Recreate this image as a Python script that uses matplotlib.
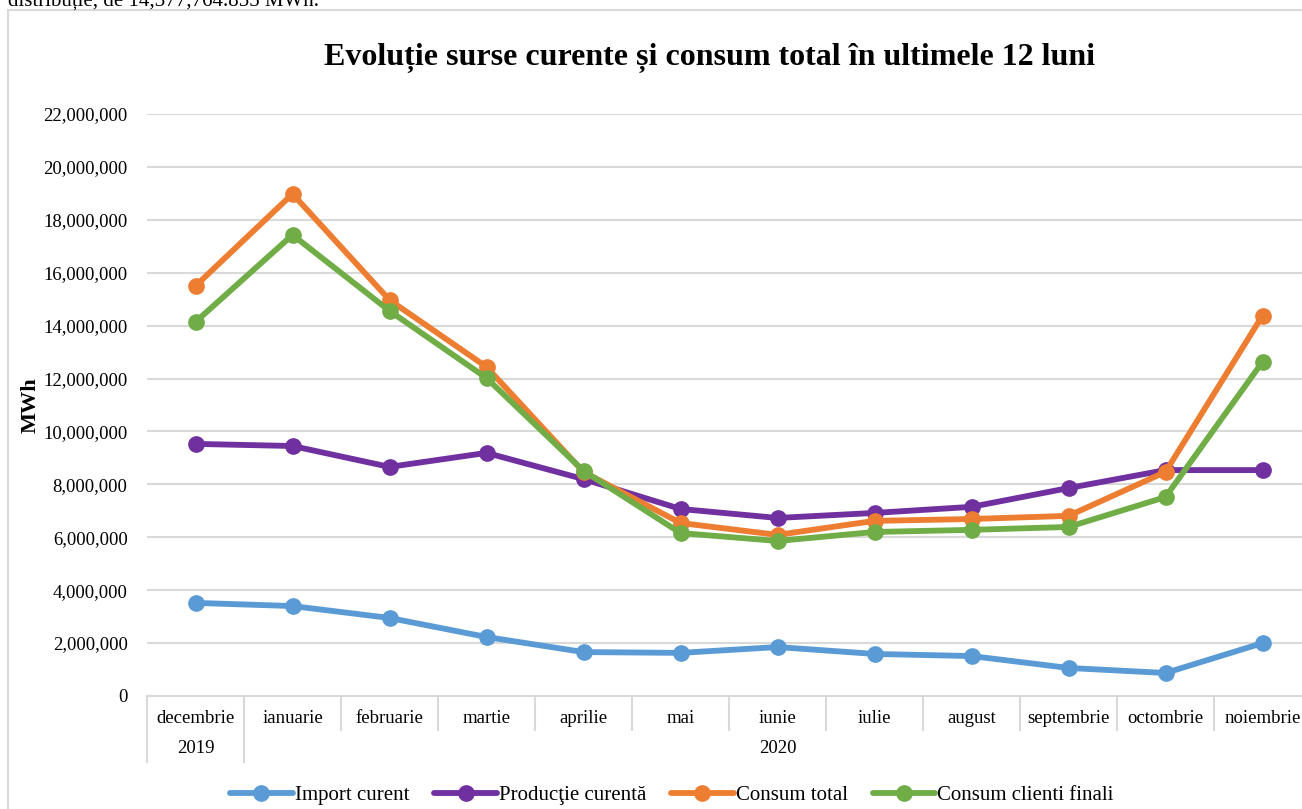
import numpy as np
import matplotlib
matplotlib.use('Agg')
import matplotlib.pyplot as plt
from matplotlib.patches import Rectangle

# Data (MWh)
months = ['decembrie', 'ianuarie', 'februarie', 'martie', 'aprilie', 'mai',
          'iunie', 'iulie', 'august', 'septembrie', 'octombrie', 'noiembrie']
years = ['2019', '2020']
year_span = [1, 11]  # number of months under each year
import_curent = [3.52e6, 3.40e6, 2.95e6, 2.23e6, 1.66e6, 1.63e6,
                 1.85e6, 1.59e6, 1.51e6, 1.06e6, 0.87e6, 2.00e6]
productie = [9.53e6, 9.45e6, 8.66e6, 9.19e6, 8.20e6, 7.07e6,
             6.73e6, 6.92e6, 7.15e6, 7.86e6, 8.54e6, 8.54e6]
consum_total = [15.50e6, 18.98e6, 14.97e6, 12.44e6, 8.47e6, 6.54e6,
                6.09e6, 6.62e6, 6.69e6, 6.81e6, 8.47e6, 14.38e6]
consum_clienti = [14.14e6, 17.43e6, 14.56e6, 12.02e6, 8.51e6, 6.16e6,
                  5.86e6, 6.20e6, 6.28e6, 6.39e6, 7.52e6, 12.63e6]

series = [('Import curent', import_curent, '#5B9BD5'),
          ('Producţie curentă', productie, '#7030A0'),
          ('Consum total', consum_total, '#ED7D31'),
          ('Consum clienti finali', consum_clienti, '#70AD47')]

plt.rcParams['font.family'] = ['Liberation Serif', 'DejaVu Serif']

W, H = 1302, 809
fig = plt.figure(figsize=(W / 100, H / 100), dpi=100)

# chart frame (partly cropped in the reference)
fig.patches.append(Rectangle((8 / W, -0.1), 1.2, 1 - 10 / H + 0.1,
                             transform=fig.transFigure, fill=False,
                             edgecolor='#D9D9D9', linewidth=1.5))
# cropped sentence above the chart
fig.text(8 / W, 1 - 1 / H, 'distribuție, de 14,377,764.855 MWh.',
         fontsize=15, va='center', ha='left')

left, right, bottom, top = 147, 1311, 696, 114
ax = fig.add_axes([left / W, 1 - bottom / H, (right - left) / W, (bottom - top) / H])

x = np.arange(len(months))
for name, vals, col in series:
    ax.plot(x, vals, color=col, linewidth=4.2, marker='o', markersize=11,
            label=name, solid_capstyle='round', clip_on=False)

ax.set_xlim(-0.5, len(months) - 0.5)
ax.set_ylim(0, 22e6)
ax.set_yticks(np.arange(0, 22e6 + 1, 2e6))
ax.yaxis.set_major_formatter(matplotlib.ticker.FuncFormatter(lambda v, p: f'{v:,.0f}'))
ax.tick_params(axis='y', length=0, labelsize=13.5, pad=14)
ax.grid(axis='y', color='#D9D9D9', linewidth=1.5)
ax.set_axisbelow(True)
for s in ['top', 'right', 'left']:
    ax.spines[s].set_visible(False)
ax.spines['bottom'].set_color('#D9D9D9')
ax.spines['bottom'].set_linewidth(1.5)

# category separators: short for months, long at year boundaries
bounds = np.arange(len(months) + 1) - 0.5
year_bounds = np.cumsum([0] + year_span) - 0.5
ax.set_xticks([b for b in bounds if b not in year_bounds])
ax.set_xticks(year_bounds, minor=True)
ax.tick_params(axis='x', which='major', length=25, width=1.5, color='#D9D9D9', labelbottom=False)
ax.tick_params(axis='x', which='minor', length=48, width=1.5, color='#D9D9D9', labelbottom=False)

for i, m in enumerate(months):
    ax.annotate(m, xy=(i, 0), xycoords=('data', 'axes fraction'),
                xytext=(0, -16), textcoords='offset points',
                ha='center', va='center', fontsize=13.5)
start = 0
for yr, n in zip(years, year_span):
    ax.annotate(yr, xy=(start + (n - 1) / 2, 0), xycoords=('data', 'axes fraction'),
                xytext=(0, -38), textcoords='offset points',
                ha='center', va='center', fontsize=13.5)
    start += n

ax.set_ylabel('MWh', fontsize=16, fontweight='bold')
ax.yaxis.set_label_coords(-0.091, 0.5)

fig.text(710 / W, 1 - 58 / H, 'Evoluție surse curente și consum total în ultimele 12 luni',
         fontsize=23, fontweight='bold', ha='center', va='center')

fig.legend(loc='center', bbox_to_anchor=(672 / W, 1 - 795 / H), ncol=4,
           frameon=False, fontsize=15, handlelength=3, columnspacing=1.2,
           handletextpad=0.1)

fig.savefig('out.png', dpi=100)
